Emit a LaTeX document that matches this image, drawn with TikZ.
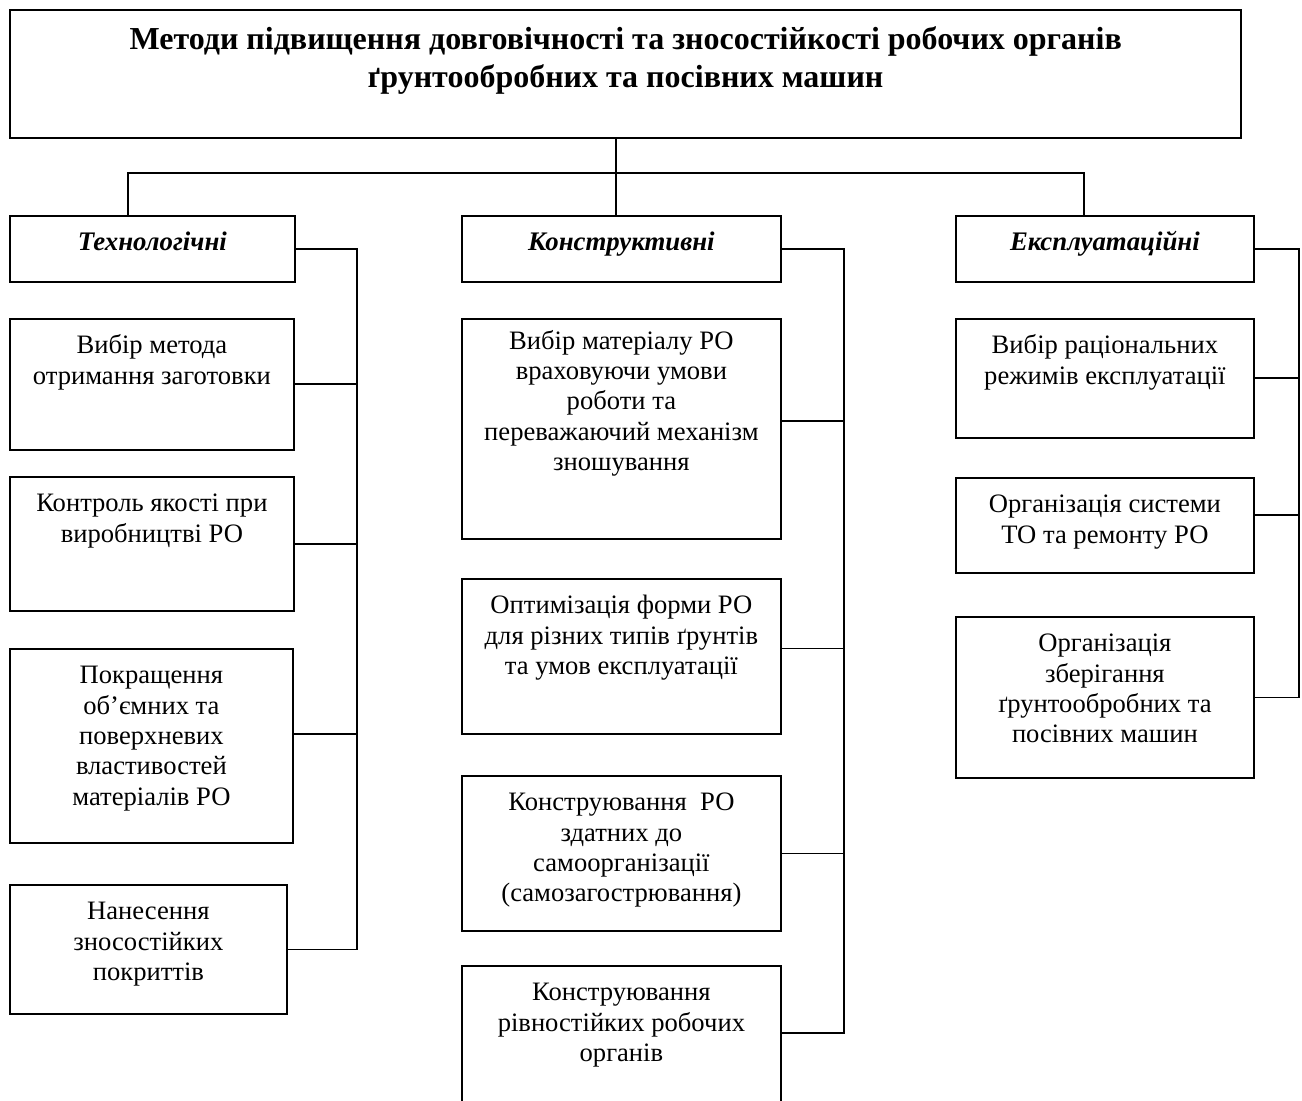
\documentclass[tikz,border=0pt]{standalone}
\usepackage{fontspec}
\setmainfont{Liberation Serif}

\newdimen\pxu \pxu=0.5pt
% box of given width/height (in px), text hung from the top
\newcommand{\boxtxt}[4][6.8pt]{\parbox[c][#3\pxu][t]{#2\pxu}{\centering\vspace*{#1}\strut #4}}

\begin{document}
\begin{tikzpicture}[x=0.5pt, y=-0.5pt, line width=0.9pt,
    every node/.style={draw, line width=0.9pt, inner sep=0pt, anchor=north west, font={\fontsize{13.3}{15.2}\selectfont}},
    catbox/.style={font={\fontsize{13.4}{15.2}\selectfont\bfseries\itshape}}]
    \useasboundingbox (0,0) rectangle (1302,1101);
    \clip (0,0) rectangle (1302,1101);

    \node[line width=1.2pt, font={\fontsize{16}{19}\selectfont\bfseries}] (title) at (9,9) {\boxtxt[6.5pt]{1231}{128}{Методи підвищення довговічності та зносостійкості робочих органів\\ ґрунтообробних та посівних машин}};

    \node[catbox] (tech) at (9,215) {\boxtxt{285}{66}{Технологічні}};
    \node[catbox] (constr) at (461,215) {\boxtxt{319}{66}{Конструктивні}};
    \node[catbox] (expl) at (955,215) {\boxtxt{298}{66}{Експлуатаційні}};

    \node (t1) at (9,318) {\boxtxt{284}{131}{Вибір метода\\ отримання заготовки}};
    \node (t2) at (9,476) {\boxtxt{284}{134}{Контроль якості при\\ виробництві РО}};
    \node (t3) at (9,648) {\boxtxt{283}{194}{Покращення\\ об’ємних та\\ поверхневих\\ властивостей\\ матеріалів РО}};
    \node (t4) at (9,884) {\boxtxt{277}{129}{Нанесення\\ зносостійких\\ покриттів}};

    \node (c1) at (461,318) {\boxtxt[4.5pt]{319}{220}{Вибір матеріалу РО\\ враховуючи умови\\ роботи та\\ переважаючий механізм\\ зношування}};
    \node (c2) at (461,578) {\boxtxt{319}{155}{Оптимізація форми РО\\ для різних типів ґрунтів\\ та умов експлуатації}};
    \node (c3) at (461,775) {\boxtxt{319}{155}{Конструювання\ \ РО\\ здатних до\\ самоорганізації\\ (самозагострювання)}};
    \node (c4) at (461,965) {\boxtxt{319}{170}{Конструювання\\ рівностійких робочих\\ органів}};

    \node (e1) at (955,318) {\boxtxt{298}{119}{Вибір раціональних\\ режимів експлуатації}};
    \node (e2) at (955,477) {\boxtxt{298}{95}{Організація системи\\ ТО та ремонту РО}};
    \node (e3) at (955,616) {\boxtxt{298}{161}{Організація\\ зберігання\\ ґрунтообробних та\\ посівних машин}};

    % tree from the title
    \coordinate (hub) at (616,173);
    \coordinate (lt) at (128,173);
    \coordinate (rt) at (1084,173);
    \draw (hub |- title.south) -- (hub |- constr.north);
    \draw (lt |- tech.north) -- (lt) -- (rt) -- (rt |- expl.north);

    % side buses
    \coordinate (tbus) at (357,250);
    \coordinate (cbus) at (844,250);
    \coordinate (ebus) at (1299,250);

    \draw (tech.east) -- (tech.east -| tbus) -- (tbus |- t4.east) -- (t4.east);
    \draw (t1.east) -- (t1.east -| tbus);
    \draw (t2.east) -- (t2.east -| tbus);
    \draw ([yshift=6pt]t3.east) -- ([yshift=6pt]t3.east -| tbus);

    \draw (constr.east) -- (constr.east -| cbus) -- (cbus |- 0,1033) -- (c4.east |- 0,1033);
    \draw ([yshift=4pt]c1.east) -- ([yshift=4pt]c1.east -| cbus);
    \draw ([yshift=4pt]c2.east) -- ([yshift=4pt]c2.east -| cbus);
    \draw (c3.east) -- (c3.east -| cbus);

    \draw (expl.east) -- (expl.east -| ebus) -- (ebus |- e3.east) -- (e3.east);
    \draw (e1.east) -- (e1.east -| ebus);
    \draw ([yshift=5pt]e2.east) -- ([yshift=5pt]e2.east -| ebus);
\end{tikzpicture}
\end{document}
